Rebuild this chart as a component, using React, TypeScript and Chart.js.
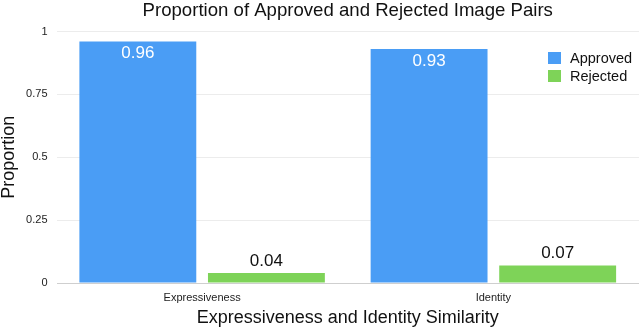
import React, { useEffect, useRef } from "react";
import { Chart, registerables } from "chart.js";

Chart.register(...registerables);

const categories = ["Expressiveness", "Identity"];
const approved = [0.96, 0.93];
const rejected = [0.04, 0.07];
const seriesNames = ["Approved", "Rejected"];
const yTicks = [0, 0.25, 0.5, 0.75, 1];
const titleText = "Proportion of Approved and Rejected Image Pairs";
const xTitle = "Expressiveness and Identity Similarity";
const yTitle = "Proportion";

const BLUE = "rgb(74,157,245)";
const GREEN = "rgb(126,211,88)";
const FONT = "'Liberation Sans', Arial, Helvetica, sans-serif";

export default function App() {
  const ref = useRef<HTMLCanvasElement>(null);

  useEffect(() => {
    document.body.style.margin = "0";
    const canvas = ref.current;
    if (!canvas) return;

    const titlePlugin = {
      id: "customTitle",
      afterDraw(chart: any) {
        const { ctx, chartArea } = chart;
        ctx.save();
        ctx.fillStyle = "#111";
        ctx.font = `18.6px ${FONT}`;
        ctx.textAlign = "center";
        ctx.textBaseline = "middle";
        ctx.fillText(titleText, (chartArea.left + chartArea.right) / 2, 11);
        ctx.restore();
      },
    };

    const legendPlugin = {
      id: "customLegend",
      afterDraw(chart: any) {
        const { ctx, chartArea } = chart;
        const colors = [BLUE, GREEN];
        const x0 = chartArea.right - 91;
        const y0 = 52;
        ctx.save();
        ctx.font = `14.5px ${FONT}`;
        ctx.textBaseline = "middle";
        ctx.textAlign = "left";
        seriesNames.forEach((name, i) => {
          const y = y0 + i * 18;
          ctx.fillStyle = colors[i];
          ctx.fillRect(x0, y, 13, 12);
          ctx.fillStyle = "#111";
          ctx.fillText(name, x0 + 22, y + 6.5);
        });
        ctx.restore();
      },
    };

    const labelPlugin = {
      id: "barLabels",
      afterDatasetsDraw(chart: any) {
        const { ctx } = chart;
        ctx.save();
        ctx.font = `17px ${FONT}`;
        ctx.textAlign = "center";
        ctx.textBaseline = "middle";
        chart.data.datasets.forEach((ds: any, di: number) => {
          const meta = chart.getDatasetMeta(di);
          meta.data.forEach((bar: any, i: number) => {
            const v = ds.data[i];
            const txt = v.toFixed(2);
            if (di === 0) {
              ctx.fillStyle = "#fff";
              ctx.fillText(txt, bar.x, bar.y + 12);
            } else {
              ctx.fillStyle = "#111";
              ctx.fillText(txt, bar.x, bar.y - 12);
            }
          });
        });
        ctx.restore();
      },
    };

    const chart = new Chart(canvas, {
      type: "bar",
      data: {
        labels: categories,
        datasets: [
          {
            label: seriesNames[0],
            data: approved,
            backgroundColor: BLUE,
            categoryPercentage: 0.883,
            barPercentage: 0.909,
          },
          {
            label: seriesNames[1],
            data: rejected,
            backgroundColor: GREEN,
            categoryPercentage: 0.883,
            barPercentage: 0.909,
          },
        ],
      },
      options: {
        responsive: false,
        animation: false,
        layout: { padding: { top: 31.5, right: 1, left: 0, bottom: 0 } },
        plugins: {
          legend: { display: false },
          title: { display: false },
          tooltip: { enabled: false },
        },
        scales: {
          x: {
            grid: { display: false, drawTicks: false },
            border: { display: false },
            ticks: {
              color: "#222",
              font: { family: FONT, size: 11 },
              padding: 8,
            },
            title: {
              display: true,
              text: xTitle,
              color: "#111",
              font: { family: FONT, size: 18, lineHeight: 1 },
              padding: { top: 0, bottom: 0 },
            },
            afterFit: (scale: any) => {
              scale.height = 44;
            },
          },
          y: {
            min: 0,
            max: 1,
            afterBuildTicks: (scale: any) => {
              scale.ticks = yTicks.map((v) => ({ value: v }));
            },
            grid: {
              drawTicks: false,
              color: (c: any) => (c.tick && c.tick.value === 0 ? "#cfcfcf" : "#ececec"),
              lineWidth: 1,
            },
            border: { display: false },
            ticks: {
              color: "#222",
              font: { family: FONT, size: 11 },
              padding: 9,
              callback: (v: any) => String(v),
            },
            title: {
              display: true,
              text: yTitle,
              color: "#111",
              font: { family: FONT, size: 18, lineHeight: 1 },
              padding: { top: 0, bottom: 0 },
            },
            afterFit: (scale: any) => {
              scale.width = 56.5;
            },
          },
        },
      },
      plugins: [titlePlugin, legendPlugin, labelPlugin],
    });

    return () => chart.destroy();
  }, []);

  return (
    <div style={{ position: "absolute", left: 0, top: 0, width: 640, height: 327 }}>
      <canvas ref={ref} width={640} height={327} style={{ display: "block" }} />
    </div>
  );
}
